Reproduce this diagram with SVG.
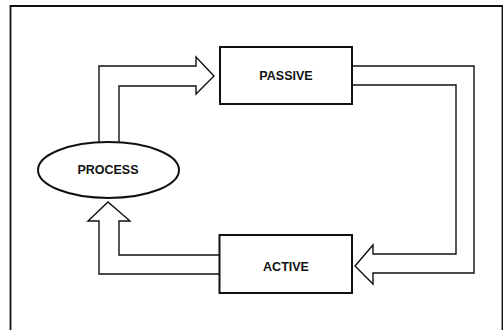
<svg xmlns="http://www.w3.org/2000/svg" width="503" height="330" viewBox="0 0 503 330">
<style>
.frame{fill:none;stroke:#111;stroke-width:1.8}
.box{fill:#fff;stroke:#111;stroke-width:2}
.conn{fill:none;stroke:#111;stroke-width:1.4;stroke-linejoin:miter}
.lbl{font-family:"Liberation Sans",Arial,sans-serif;font-weight:bold;font-size:12.5px;fill:#111;text-anchor:middle}
</style>
<rect width="503" height="330" fill="#fff"/>
<path class="frame" d="M10.5,330 V6 H502.5 V330"/>
<g id="connectors">
<path class="conn" d="M99,142.5 V66 H196 V57 L214,76 L196,94 V86 H119 V142.5"/>
<path class="conn" d="M352,66 H474 V273 H373 V284 L355,266 L373,245 V254 H456 V85 H352"/>
<path class="conn" d="M219,255 H119 V221 H130 L108,202 L88,221 H99 V274 H219"/>
</g>
<g id="passive">
<rect class="box" x="220" y="47" width="132" height="57"/>
<text class="lbl" x="286" y="80">PASSIVE</text>
</g>
<g id="active">
<rect class="box" x="219.5" y="235" width="132.5" height="58"/>
<text class="lbl" x="286" y="270.5">ACTIVE</text>
</g>
<g id="process">
<ellipse class="box" cx="108.5" cy="170" rx="70.5" ry="28"/>
<text class="lbl" x="108" y="174">PROCESS</text>
</g>
</svg>
